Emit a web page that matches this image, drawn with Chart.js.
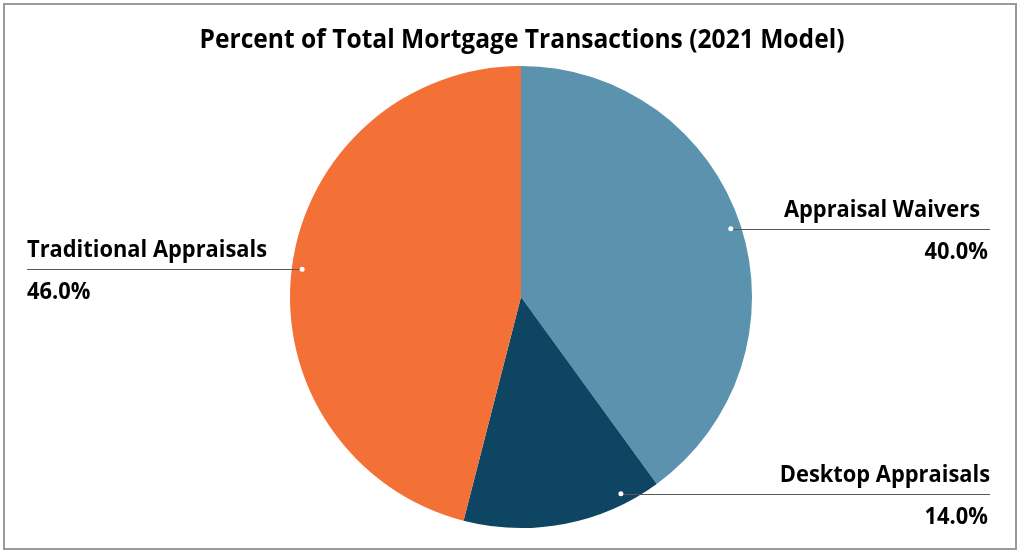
<!DOCTYPE html>
<html>
<head>
<meta charset="utf-8">
<script src="https://cdn.jsdelivr.net/npm/chart.js@4.4.1/dist/chart.umd.min.js"></script>
<style>
	html, body { margin: 0; padding: 0; background: #fff; }
	#wrap { position: relative; width: 1024px; height: 556px; }
</style>
</head>
<body>
<div id="wrap"><canvas id="chart" width="1024" height="556"></canvas></div>
<script>
const chartTitle = "Percent of Total Mortgage Transactions (2021 Model)";
const categories = ["Appraisal Waivers", "Desktop Appraisals", "Traditional Appraisals"];
const shares = [40.0, 14.0, 46.0];
const sliceColors = ["#5b93af", "#0e4562", "#f37037"];

const FONT = "'Open Sans', 'Noto Sans', sans-serif";
let squeeze = 1;

// draw text squeezed horizontally (Calibri is narrower than what we have)
function drawText(ctx, text, x, y, size, align) {
	ctx.save();
	ctx.font = `bold ${size}px ${FONT}`;
	ctx.textBaseline = "alphabetic";
	ctx.textAlign = align;
	ctx.translate(x, y);
	ctx.scale(squeeze, 1);
	ctx.fillText(text, 0, 0);
	ctx.restore();
}

const calloutPlugin = {
	id: "callouts",
	beforeDraw(chart) {
		const ctx = chart.ctx;
		ctx.save();
		ctx.strokeStyle = "#9a9a9a";
		ctx.lineWidth = 2;
		ctx.strokeRect(4, 4, 1012, 545);
		ctx.restore();
	},
	afterDraw(chart, args, opts) {
		const ctx = chart.ctx;
		ctx.save();
		ctx.font = `bold 27px ${FONT}`;
		squeeze = opts.titleWidth / ctx.measureText(chartTitle).width;
		ctx.restore();

		ctx.fillStyle = "#000";
		drawText(ctx, chartTitle, 522, 48, 27, "center");

		const arcs = chart.getDatasetMeta(0).data;
		arcs.forEach((arc, i) => {
			const { x, y, startAngle, endAngle, outerRadius } = arc.getProps(["x", "y", "startAngle", "endAngle", "outerRadius"], true);
			const a = startAngle + (endAngle - startAngle) * opts.anchorFrac[i];
			const px = x + Math.cos(a) * outerRadius * 0.955;
			const py = y + Math.sin(a) * outerRadius * 0.955;
			const right = px > x;
			const endX = right ? opts.rightEdge : opts.leftEdge;

			ctx.save();
			ctx.strokeStyle = "#595959";
			ctx.lineWidth = 1.2;
			ctx.beginPath();
			ctx.moveTo(px, Math.round(py) + 0.5);
			ctx.lineTo(endX, Math.round(py) + 0.5);
			ctx.stroke();
			ctx.fillStyle = "#fff";
			ctx.beginPath();
			ctx.arc(px, py, 2.5, 0, Math.PI * 2);
			ctx.fill();
			ctx.restore();

			ctx.fillStyle = "#000";
			const align = right ? "right" : "left";
			const inset = right ? -opts.nameInset[i] : opts.nameInset[i];
			drawText(ctx, categories[i], endX + inset, py - 12, 24, align);
			drawText(ctx, shares[i].toFixed(1) + "%", endX + (right ? -2 : 0), py + 30, 24, align);
		});
	},
};

new Chart(document.getElementById("chart"), {
	type: "pie",
	data: {
		labels: categories,
		datasets: [{
			data: shares,
			backgroundColor: sliceColors,
			borderWidth: 0,
		}],
	},
	options: {
		responsive: false,
		animation: false,
		layout: { padding: { top: 66, bottom: 28, left: 100, right: 82 } },
		plugins: {
			legend: { display: false },
			title: { display: false },
			tooltip: { enabled: false },
			callouts: {
				anchorFrac: [0.5, 0.18, 0.5],
				nameInset: [10, 0, 0],
				leftEdge: 27,
				rightEdge: 990,
				titleWidth: 645,
			},
		},
	},
	plugins: [calloutPlugin],
});
</script>
</body>
</html>
